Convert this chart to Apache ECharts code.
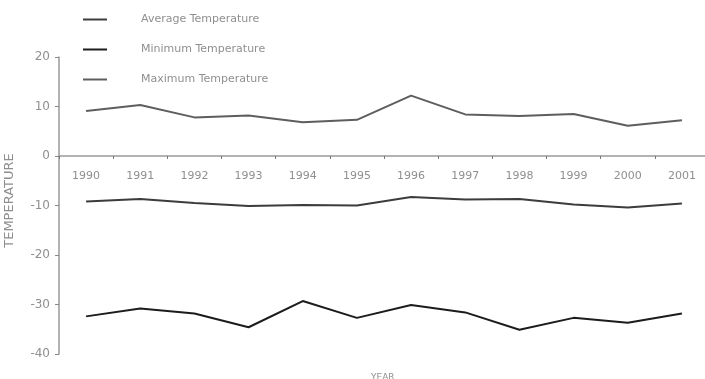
<!DOCTYPE html>
<html>
<head>
<meta charset="utf-8">
<script src="https://cdn.jsdelivr.net/npm/echarts@6/dist/echarts.min.js"></script>
<style>
  html, body { margin: 0; padding: 0; background: #fff; }
  #chart { width: 705px; height: 379px; }
</style>
</head>
<body>
<div id="chart"></div>
<script>
// Yearly temperatures, 1990-2001
const years = ['1990', '1991', '1992', '1993', '1994', '1995', '1996', '1997', '1998', '1999', '2000', '2001'];
const averageTemp = [-9.2, -8.7, -9.5, -10.1, -9.9, -10.0, -8.3, -8.8, -8.7, -9.8, -10.4, -9.6];
const minimumTemp = [-32.4, -30.8, -31.8, -34.6, -29.3, -32.7, -30.1, -31.6, -35.1, -32.7, -33.7, -31.8];
const maximumTemp = [9.1, 10.3, 7.8, 8.2, 6.8, 7.3, 12.2, 8.4, 8.1, 8.5, 6.1, 7.2];
const yTicks = { min: -40, max: 20, step: 10 };

const textGrey = '#8f8f8f';
const font = 'DejaVu Sans, sans-serif';

// plot area
const gridTop = 57;
const gridBottom = 25;
const chartHeight = 379;
const plotHeight = chartHeight - gridTop - gridBottom;
// distance from the plot's bottom edge up to the zero line
const zeroOffset = plotHeight * (0 - yTicks.min) / (yTicks.max - yTicks.min);

const chart = echarts.init(document.getElementById('chart'));

function lineSeries(name, data, color) {
  return {
    name: name,
    type: 'line',
    data: data,
    symbol: 'none',
    smooth: false,
    lineStyle: { color: color, width: 2 },
    itemStyle: { color: color }
  };
}

chart.setOption({
  animation: false,
  backgroundColor: '#ffffff',
  title: {
    text: 'YEAR',
    left: 366,
    top: 368,
    textStyle: { fontFamily: font, fontSize: 9, fontWeight: 'normal', color: textGrey }
  },
  legend: {
    orient: 'vertical',
    left: 78,
    top: 9,
    itemGap: 19,
    itemWidth: 24,
    itemHeight: 13,
    icon: 'path://M0,0 H24 V2 H0 Z',
    data: ['Average Temperature', 'Minimum Temperature', 'Maximum Temperature'],
    textStyle: { fontFamily: font, fontSize: 11, color: textGrey, padding: [0, 0, 0, 29] }
  },
  grid: { left: 59, right: -4, top: gridTop, bottom: gridBottom, containLabel: false, outerBoundsMode: 'none' },
  xAxis: {
    type: 'category',
    data: years,
    boundaryGap: true,
    offset: -zeroOffset,
    axisLine: { onZero: false, lineStyle: { color: '#9a9a9a', width: 1.5 } },
    axisTick: { show: true, length: 3, inside: false, lineStyle: { color: '#777' } },
    axisLabel: { fontFamily: font, fontSize: 11, color: textGrey, margin: 15 },
    splitLine: { show: false }
  },
  yAxis: {
    type: 'value',
    min: yTicks.min,
    max: yTicks.max,
    interval: yTicks.step,
    name: 'TEMPERATURE',
    nameLocation: 'middle',
    nameGap: 43,
    nameTextStyle: { fontFamily: font, fontSize: 13, color: textGrey, padding: [0, 0, 0, 10] },
    axisLine: { show: true, lineStyle: { color: '#9a9a9a', width: 1.5 } },
    axisTick: { show: true, length: 4, lineStyle: { color: '#888' } },
    axisLabel: { fontFamily: font, fontSize: 12, color: textGrey, margin: 9 },
    splitLine: { show: false }
  },
  series: [
    lineSeries('Average Temperature', averageTemp, '#3c3c3c'),
    lineSeries('Minimum Temperature', minimumTemp, '#1c1c1c'),
    lineSeries('Maximum Temperature', maximumTemp, '#5e5e5e')
  ]
});
</script>
</body>
</html>
